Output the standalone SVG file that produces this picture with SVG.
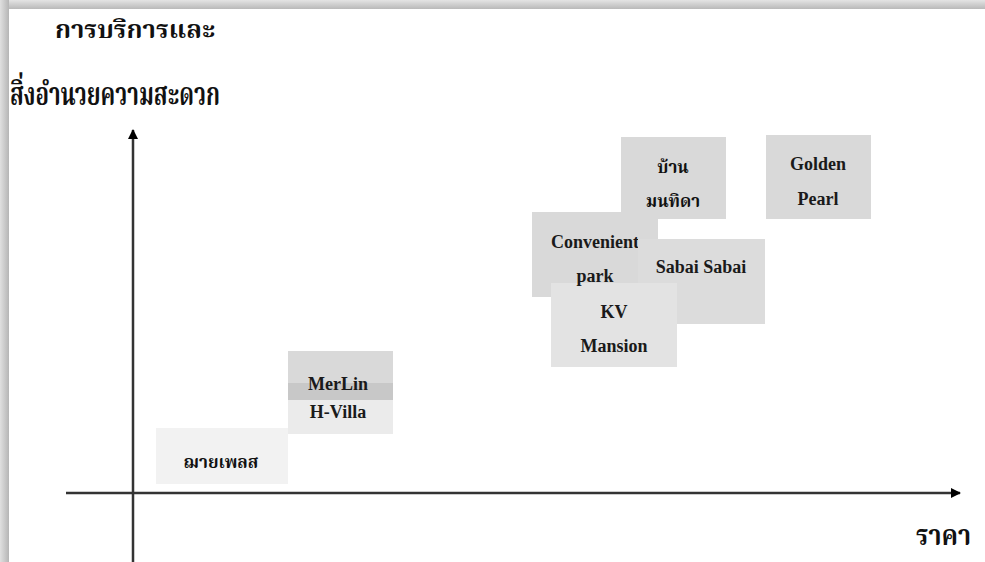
<svg xmlns="http://www.w3.org/2000/svg" width="985" height="562" viewBox="0 0 985 562">
<defs>
<linearGradient id="gTop" x1="0" y1="0" x2="0" y2="1"><stop offset="0" stop-color="#e4e4e4"/><stop offset="1" stop-color="#b9b9b9"/></linearGradient>
<linearGradient id="gLeft" x1="0" y1="0" x2="1" y2="0"><stop offset="0" stop-color="#e0e0e0"/><stop offset="1" stop-color="#b5b5b5"/></linearGradient>
<marker id="arr" markerWidth="10" markerHeight="10" refX="9" refY="5" orient="auto" markerUnits="userSpaceOnUse" viewBox="0 0 10 10"><path d="M0,0 L10,5 L0,10 Z" fill="#000"/></marker>
<style>
.lbl{font-family:"Liberation Serif","Times New Roman",serif;font-weight:bold;font-size:18px;fill:#1a1a1a;text-anchor:middle}
.th{font-family:"Liberation Serif","Noto Serif Thai","Noto Sans Thai",serif;font-weight:bold;fill:#111}
.ax{stroke:#333;stroke-width:2.5;fill:none}
</style>
</defs>
<rect x="0" y="0" width="985" height="562" fill="#fff"/>
<rect x="0" y="0" width="985" height="9" fill="url(#gTop)"/>
<rect x="0" y="0" width="9" height="562" fill="url(#gLeft)"/>
<g id="title">
<text class="th" x="55" y="38" font-size="25" textLength="160" lengthAdjust="spacingAndGlyphs">การบริการและ</text>
<text class="th" x="10" y="105" font-size="32" textLength="210" lengthAdjust="spacingAndGlyphs">สิ่งอำนวยความสะดวก</text>
<text class="th" x="916" y="545" font-size="28" textLength="55" lengthAdjust="spacingAndGlyphs">ราคา</text>
</g>
<g id="axes">
<line class="ax" x1="133" y1="562" x2="133" y2="130" marker-end="url(#arr)"/>
<line class="ax" x1="66" y1="493" x2="960" y2="493" marker-end="url(#arr)"/>
</g>
<g id="n-baan">
<rect x="621" y="137" width="105" height="82" fill="#d9d9d9"/>
<text class="th" x="673" y="173" font-size="17" text-anchor="middle">บ้าน</text>
<text class="th" x="673" y="207" font-size="17" text-anchor="middle">มนทิดา</text>
</g>
<g id="n-golden">
<rect x="766" y="135" width="105" height="84" fill="#d9d9d9"/>
<text class="lbl" x="818" y="170">Golden</text>
<text class="lbl" x="818" y="205">Pearl</text>
</g>
<g id="n-convenient">
<rect x="532" y="212" width="126" height="85" fill="#d9d9d9"/>
<text class="lbl" x="595" y="248">Convenient</text>
</g>
<g id="n-sabai">
<rect x="638" y="239" width="127" height="85" fill="#dcdcdc"/>
<text class="lbl" x="701" y="273">Sabai Sabai</text>
</g>
<g id="n-kv">
<rect x="551" y="283" width="126" height="84" fill="#e3e3e3"/>
<text class="lbl" x="595" y="282">park</text>
<text class="lbl" x="614" y="318">KV</text>
<text class="lbl" x="614" y="352">Mansion</text>
</g>
<g id="n-merlin">
<rect x="288" y="351" width="105" height="49" fill="#d9d9d9"/>
</g>
<g id="n-hvilla">
<rect x="288" y="383" width="105" height="51" fill="#000" fill-opacity="0.08"/>
<text class="lbl" x="338" y="390">MerLin</text>
<text class="lbl" x="338" y="418">H-Villa</text>
</g>
<g id="n-chai">
<rect x="156" y="428" width="132" height="56" fill="#f2f2f2"/>
<text class="th" x="221" y="468" font-size="17" text-anchor="middle">ฌายเพลส</text>
</g>
</svg>
